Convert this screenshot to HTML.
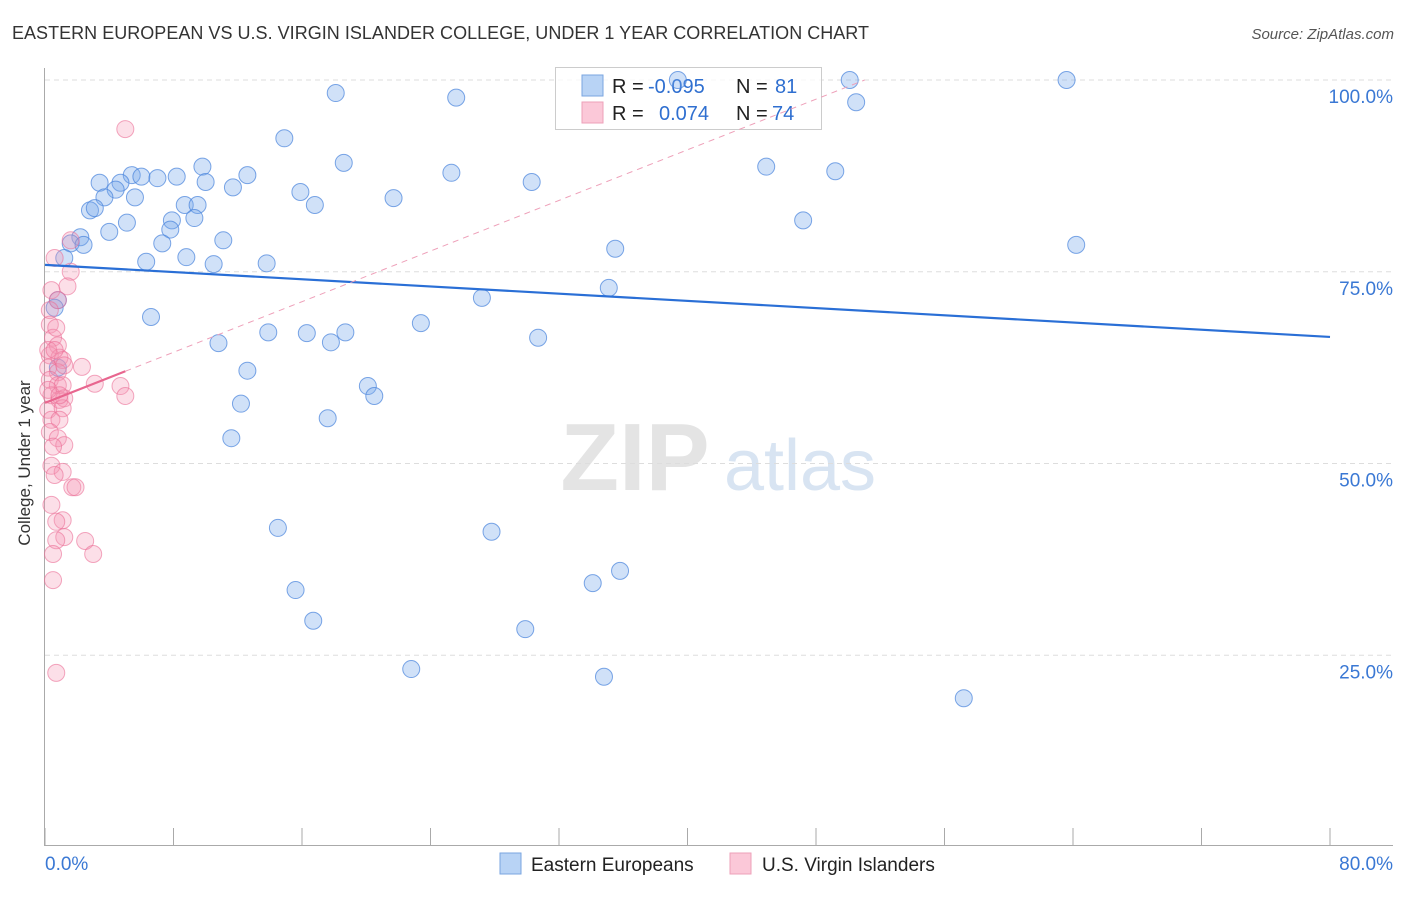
<!DOCTYPE html>
<html><head><meta charset="utf-8"><style>
body{margin:0;background:#fff;font-family:"Liberation Sans",sans-serif}
svg text{font-family:"Liberation Sans",sans-serif}
</style></head><body>
<svg id="c" width="1406" height="892" xmlns="http://www.w3.org/2000/svg">
<text x="12" y="39" font-size="18" fill="#333" textLength="857">EASTERN EUROPEAN VS U.S. VIRGIN ISLANDER COLLEGE, UNDER 1 YEAR CORRELATION CHART</text>
<text x="1394" y="39" font-size="15" fill="#555" font-style="italic" text-anchor="end">Source: ZipAtlas.com</text>
<g>
<text x="635" y="490" font-size="96" fill="#e4e4e4" font-family="Liberation Serif" text-anchor="middle" font-weight="bold">ZIP</text>
<text x="800" y="490" font-size="72" fill="#d8e4f2" text-anchor="middle">atlas</text>
</g>
<g id="grid"></g>
<g id="axes"></g>
<g>
<rect x="555.5" y="67.5" width="266" height="62" fill="rgba(255,255,255,0.75)" stroke="#ccc"/>
<rect x="582" y="75" width="21" height="21" fill="#b8d3f5" stroke="#7aa6e0"/>
<rect x="582" y="102" width="21" height="21" fill="#fbc8d8" stroke="#eea0b9"/>
<text x="612" y="93" font-size="20" fill="#222">R = </text><text x="648" y="93" font-size="20" fill="#2f6fd0">-0.095</text>
<text x="736" y="93" font-size="20" fill="#222">N = </text><text x="775" y="93" font-size="20" fill="#2f6fd0">81</text>
<text x="612" y="120" font-size="20" fill="#222">R = </text><text x="659" y="120" font-size="20" fill="#2f6fd0">0.074</text>
<text x="736" y="120" font-size="20" fill="#222">N = </text><text x="772" y="120" font-size="20" fill="#2f6fd0">74</text>
</g>
<g id="pts"></g>
<g id="trend"></g>
<text x="22" y="455" font-size="17" fill="#333" text-anchor="middle" transform="rotate(-90 30 455)">College, Under 1 year</text>
<g>
<rect x="500" y="853" width="21" height="21" fill="#b8d3f5" stroke="#7aa6e0"/>
<text x="531" y="871" font-size="19" fill="#222">Eastern Europeans</text>
<rect x="730" y="853" width="21" height="21" fill="#fbc8d8" stroke="#eea0b9"/>
<text x="762" y="871" font-size="19" fill="#222">U.S. Virgin Islanders</text>
</g>
</svg>
<script>
const blueX=[39.4,50.1,63.6,18.1,25.6,50.5,14.9,18.6,44.9,9.8,49.2,25.3,3.4,5.4,6.0,7.0,8.2,10.0,11.7,12.6,4.7,30.3,15.9,4.4,3.7,5.6,21.7,16.8,8.7,9.5,2.8,3.1,47.2,7.9,9.3,5.1,4.0,7.8,11.1,2.2,1.6,7.3,2.4,35.5,64.2,8.8,6.3,10.5,13.8,1.2,27.2,35.1,0.8,0.6,6.6,23.4,13.9,16.3,18.7,17.8,10.8,30.7,12.6,20.1,20.5,12.2,17.6,11.6,14.5,27.8,35.8,34.1,15.6,16.7,29.9,22.8,34.8,57.2,0.8];
const blueY=[100,100,100,98.3,97.7,97.1,92.4,89.2,88.7,88.7,88.1,87.9,86.6,87.6,87.4,87.2,87.4,86.7,86.0,87.6,86.6,86.7,85.4,85.7,84.7,84.7,84.6,83.7,83.7,83.7,83.0,83.3,81.7,81.7,82.0,81.4,80.2,80.5,79.1,79.5,78.7,78.7,78.5,78.0,78.5,76.9,76.3,76.0,76.1,76.8,71.6,72.9,71.3,70.3,69.1,68.3,67.1,67.0,67.1,65.8,65.7,66.4,62.1,60.1,58.8,57.8,55.9,53.3,41.6,41.1,36.0,34.4,33.5,29.5,28.4,23.2,22.2,19.4,62.5];
const pinkX=[5.0,1.6,0.6,1.6,1.4,0.4,0.8,0.3,0.3,0.5,0.8,0.3,0.9,1.1,0.2,0.8,2.3,0.3,0.8,1.1,3.1,4.7,5.0,0.4,0.9,1.2,0.2,1.1,0.4,0.9,0.3,0.8,1.2,0.4,1.1,0.6,1.7,1.9,0.4,1.1,0.7,1.2,0.7,2.5,3.0,0.5,0.5,0.7,0.2,0.6,0.2,0.5,0.9,0.7,1.2];
const pinkY=[93.6,79.1,76.8,75.0,73.1,72.6,71.3,70.0,68.1,66.4,65.4,64.1,63.8,63.5,62.5,61.9,62.6,60.9,60.2,60.2,60.4,60.1,58.8,58.9,58.3,58.5,57.0,57.2,55.7,55.7,54.1,53.3,52.4,49.7,48.9,48.5,46.9,46.9,44.6,42.6,42.4,40.4,40.0,39.9,38.2,38.2,34.8,22.7,64.8,64.8,59.6,52.2,58.9,67.7,62.8];
const yTicks=[25,50,75,100];
const yTickLabels=["25.0%","50.0%","75.0%","100.0%"];
const xTicks=[0,8,16,24,32,40,48,56,64,72,80];
const blueTrend=[75.9,66.5];
const pinkTrend=[57.9,0.825];
const NS="http://www.w3.org/2000/svg";
const sx=v=>45+v/80*1285, sy=v=>847-v*7.67;
function mk(t,a,p){const e=document.createElementNS(NS,t);for(const k in a)e.setAttribute(k,a[k]);p.appendChild(e);return e;}
const grid=document.getElementById('grid'),axes=document.getElementById('axes'),pts=document.getElementById('pts'),tr=document.getElementById('trend');
yTicks.forEach((v,i)=>{
 const l=mk('line',{x1:45,x2:1393,y1:sy(v),y2:sy(v),stroke:'#ddd','stroke-dasharray':'5,4'},grid);
 
 
 const t=mk('text',{x:1393,y:sy(v)+23,'font-size':19,fill:'#3a78d4','text-anchor':'end'},axes);
 t.textContent=yTickLabels[i];
 
 
});
const ax=mk('path',{d:'M44.5 68V845.5H1393',stroke:'#aaa',fill:'none'},axes);


xTicks.forEach(v=>{
 const l=mk('line',{x1:sx(v),x2:sx(v),y1:828,y2:845,stroke:'#aaa'},axes);
 
 
});
const x0=mk('text',{x:45,y:870,'font-size':19,fill:'#3a78d4'},axes);x0.textContent='0.0%';


const x1=mk('text',{x:1393,y:870,'font-size':19,fill:'#3a78d4','text-anchor':'end'},axes);x1.textContent='80.0%';


blueX.forEach((x,i)=>{
 const c=mk('circle',{cx:sx(x),cy:sy(blueY[i]),r:8.5,fill:'rgba(120,170,235,0.35)',stroke:'rgba(70,130,220,0.7)','stroke-width':1},pts);
 
 
});
pinkX.forEach((x,i)=>{
 const c=mk('circle',{cx:sx(x),cy:sy(pinkY[i]),r:8.5,fill:'rgba(245,150,180,0.3)',stroke:'rgba(235,110,150,0.6)','stroke-width':1},pts);
 
 
});
const bt=mk('line',{x1:sx(0),y1:sy(blueTrend[0]),x2:sx(80),y2:sy(blueTrend[1]),stroke:'#2a6fd6','stroke-width':2.2},tr);


const xEnd=(100-pinkTrend[0])/pinkTrend[1];
const pd=mk('line',{x1:sx(5),y1:sy(pinkTrend[0]+5*pinkTrend[1]),x2:sx(xEnd),y2:sy(100),stroke:'#eea0b9','stroke-width':1,'stroke-dasharray':'6,5'},tr);


const ps=mk('line',{x1:sx(0),y1:sy(pinkTrend[0]),x2:sx(5),y2:sy(pinkTrend[0]+5*pinkTrend[1]),stroke:'#e8668f','stroke-width':2.2},tr);


</script>
</body></html>
